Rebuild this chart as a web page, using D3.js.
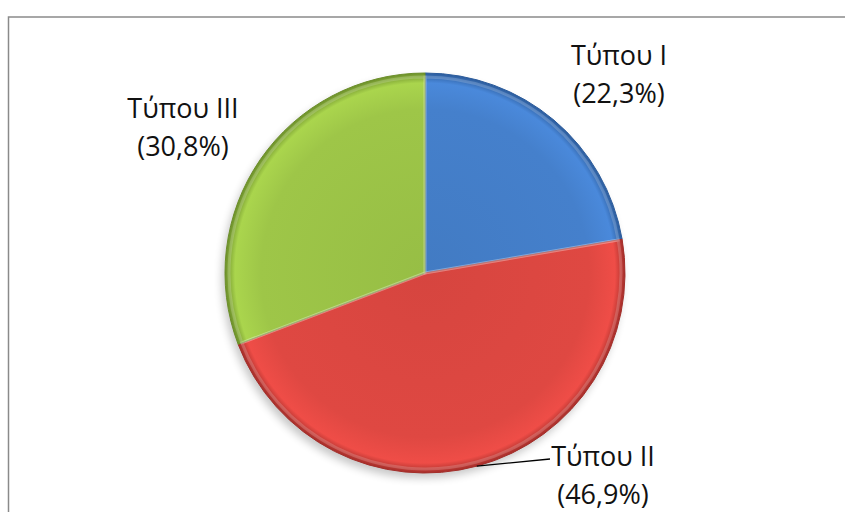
<!DOCTYPE html>
<html lang="el">
<head>
<meta charset="UTF-8">
<title>Τύποι</title>
<script src="https://d3js.org/d3.v7.min.js"></script>
<style>
    body { margin: 0; background: #fff; }
    .label { font-family: "Open Sans", sans-serif; font-size: 27px; fill: #111; }
</style>
</head>
<body>
<svg width="845" height="512"></svg>
<script>
    // data
    var names = ["Τύπου I", "Τύπου II", "Τύπου III"];
    var shares = [22.3, 46.9, 30.8];
    var colors = ["#4580cc", "#df4842", "#9ec648"];
    var darks = ["#2c5c9c", "#a42e2a", "#6c8f2a"];

    // label placement (centre x, first baseline y) + leader line flag
    var labelLayout = [
        {x: 619, y: 65},
        {x: 603, y: 466, leader: true},
        {x: 183, y: 118}
    ];

    var cx = 425, cy = 273, radius = 200;

    var svg = d3.select("svg");

    // frame
    svg.append("rect")
        .attr("x", 8.5).attr("y", 17)
        .attr("width", 900).attr("height", 600)
        .attr("fill", "none")
        .attr("stroke", "#8a8a8a")
        .attr("stroke-width", 1.5);

    var defs = svg.append("defs");
    defs.append("filter").attr("id", "shadow")
        .attr("x", "-20%").attr("y", "-20%").attr("width", "140%").attr("height", "140%")
        .append("feGaussianBlur").attr("stdDeviation", 4);

    colors.forEach(function(c, i) {
        var g = defs.append("radialGradient")
            .attr("id", "grad" + i)
            .attr("gradientUnits", "userSpaceOnUse")
            .attr("cx", 0).attr("cy", 0).attr("r", radius);
        g.append("stop").attr("offset", "0%").attr("stop-color", d3.color(c).darker(0.12));
        g.append("stop").attr("offset", "82%").attr("stop-color", c);
        g.append("stop").attr("offset", "95%").attr("stop-color", d3.color(c).brighter(0.2));
        g.append("stop").attr("offset", "100%").attr("stop-color", darks[i]);
    });

    var pie = d3.pie().sort(null).value(function(d) { return d; });
    var arcs = pie(shares);
    var arc = d3.arc().innerRadius(0).outerRadius(radius);

    var g = svg.append("g").attr("transform", "translate(" + cx + "," + cy + ")");

    // soft shadow under the pie
    g.append("circle")
        .attr("cx", -3).attr("cy", 5).attr("r", radius)
        .attr("fill", "#000").attr("opacity", 0.22)
        .attr("filter", "url(#shadow)");

    g.selectAll(".slice")
        .data(arcs)
        .enter().append("path")
        .attr("class", "slice")
        .attr("d", arc)
        .attr("fill", function(d, i) { return "url(#grad" + i + ")"; })
        .attr("stroke", function(d, i) { return darks[i]; })
        .attr("stroke-width", 1);

    // inner bevel highlight
    var bevel = d3.arc().innerRadius(0).outerRadius(radius - 4);
    g.selectAll(".bevel")
        .data(arcs)
        .enter().append("path")
        .attr("class", "bevel")
        .attr("d", bevel)
        .attr("fill", "none")
        .attr("stroke", "#fff")
        .attr("stroke-opacity", 0.18)
        .attr("stroke-width", 3);

    // labels
    var labels = svg.selectAll(".label")
        .data(arcs)
        .enter().append("text")
        .attr("class", "label")
        .attr("text-anchor", "middle");

    labels.append("tspan")
        .attr("x", function(d, i) { return labelLayout[i].x; })
        .attr("y", function(d, i) { return labelLayout[i].y; })
        .text(function(d, i) { return names[i]; });

    labels.append("tspan")
        .attr("x", function(d, i) { return labelLayout[i].x; })
        .attr("y", function(d, i) { return labelLayout[i].y + 38; })
        .text(function(d) { return "(" + d3.format(".1f")(d.value).replace(".", ",") + "%)"; });

    // leader line for the lower label, from the arc rim
    arcs.forEach(function(d, i) {
        if (!labelLayout[i].leader) return;
        var a = 2.88; // point on the rim (radians, clockwise from top)
        var px = cx + radius * Math.sin(a), py = cy - radius * Math.cos(a);
        svg.append("path")
            .attr("d", "M" + px + "," + py + "L" + (labelLayout[i].x - 53) + "," + (labelLayout[i].y - 7))
            .attr("fill", "none")
            .attr("stroke", "#000")
            .attr("stroke-width", 1.3);
    });
</script>
</body>
</html>
